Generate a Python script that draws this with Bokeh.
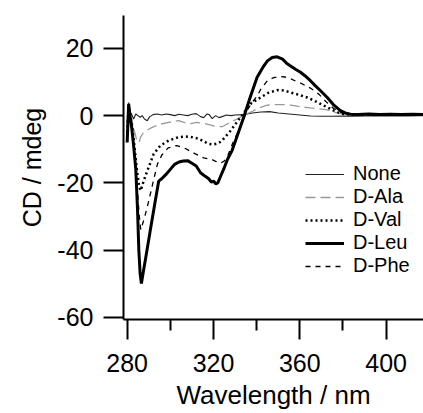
from bokeh.plotting import figure
from bokeh.models import Range1d, FixedTicker, Legend, LegendItem, Title
from bokeh.embed import file_html
from bokeh.resources import INLINE

# ---- data ----
x_ticks = [280, 320, 360, 400]
x_minor = [300, 340, 380, 420]
y_ticks = [-60, -40, -20, 0, 20]
y_tick_labels = ["-60", "-40", "-20", "0", "20"]
x_title = "Wavelength / nm"
y_title = "CD / mdeg"

none_x = [280, 280.7, 281.3, 282, 283, 284, 285, 286, 287, 288, 289.3, 290.5, 292, 294, 296, 298,
          300, 302, 304, 306, 308, 310, 312, 314, 315.5, 317, 318, 319.4, 321, 322.5, 324, 326,
          328, 330, 334, 338, 342, 346, 350, 355, 360, 365, 370, 375, 380, 385, 390, 395, 400,
          405, 410, 415, 418]
none_y = [-2, 3.9, 1, 0.5, -1, 0.5, 0, -0.5, 0, -1, -1.5, -0.3, 0.3, 0.5, 0.2, 0.5,
          0.3, 0, 0.4, 0.2, 0, 0.4, 0.6, -0.3, -0.6, 0.5, 0.3, -0.9, 0, -0.6, -0.3, 0.2,
          0, 0.2, 0.3, 0.8, 1.1, 1.2, 0.8, 0.5, 0.2, -0.1, -0.2, -0.2, -0.1, -0.2, -0.1, 0, -0.1,
          0, -0.1, 0, 0]

ala_x = [280, 280.7, 281.5, 282.5, 283.5, 284.5, 285.5, 286.2, 287.7, 289.5, 291.6, 295, 299.3,
         303.9, 308.5, 312.4, 317, 320.5, 324, 326.3, 328.5, 330.9, 333, 335.5, 338, 340.2, 342.5,
         344.9, 348.5, 352.6, 355.7, 358.8, 362, 364.9, 368, 372.7, 375.7, 378.8, 381, 383.5, 390,
         400, 410, 418]
ala_y = [-3, 3, 0, -2.5, -5, -7.5, -8, -6.4, -4.9, -4.2, -3.5, -2.6, -2,
         -1.5, -2.5, -2, -2.5, -3.1, -3.3, -2.5, -1.8, -1, -0.3, 0.5, 1.3, 2, 2.6,
         3.1, 3.3, 3.3, 3.1, 2.8, 2.5, 2.3, 2.1, 1.7, 1.1, 0.6, 0.4, 0.3, 0.3,
         0.3, 0.3, 0.3]

val_x = [280, 280.7, 281.5, 282.5, 283.5, 284.5, 285.5, 286.3, 287.7, 290, 292.3, 295.4, 299.3,
         303.9, 308.5, 313.2, 317.8, 320, 322.4, 324, 327.9, 332.5, 337.1, 341.8, 345.5, 349.5,
         352.5, 355.7, 359.5, 363.4, 366.5, 369.6, 372.7, 375.7, 378, 380.4, 383.5, 390, 400,
         410, 418]
val_y = [-5, 3, 0, -4, -10, -16, -21, -22.3, -19.3, -15.3, -11.4, -8.9, -7.4,
         -6.4, -6.2, -6.9, -8.4, -8.6, -8.2, -7.4, -4.5, -0.5, 3.5, 5.4, 6.8, 7.6,
         7.5, 6.9, 6.2, 5.4, 4.5, 3.5, 2.5, 1.5, 0.9, 0.5, 0.3, 0.3, 0.3,
         0.3, 0.3]

leu_x = [280, 280.7, 281.3, 282, 283, 284, 284.8, 285.4, 286, 286.6, 287.6, 288.6, 290.6, 292.6,
         294.6, 296, 298, 300, 302, 304, 306, 308, 310, 312, 314, 316, 317.8, 319, 320.1, 321,
         322, 323, 324.8, 326.5, 328.6, 331, 334, 337, 340.2, 343, 345, 347.2, 349.5, 352, 354,
         355.7, 358, 360.3, 362.5, 364.9, 367, 369.6, 372.7, 375.5, 378.8, 381, 383.5, 387, 392,
         397, 402, 407, 412, 418]
leu_y = [-8, 3.5, 0, -3, -9, -16, -28, -40, -47, -50, -46, -42.3, -34.6, -27,
         -19.5, -18.8, -17.5, -16, -14.5, -13.8, -13.5, -13.4, -14.2, -15, -17, -18, -18.8, -19.8,
         -19.5, -20.3, -20, -18.5, -15.8, -13, -10.4, -6, -0.5, 5.5, 11.4, 14.5, 16.3, 17.3, 17.5,
         16.8, 15.5, 14.8, 13.8, 12.9, 11.8, 10.4, 9, 7.4, 5.4, 3.3, 1.5, 0.8, 0.4, 0.3, 0.5,
         0.3, 0.4, 0.3, 0.4, 0.3]

phe_x = [280, 280.7, 281.5, 282.5, 283.5, 284.5, 285.5, 286.3, 287.5, 289, 290.5, 292.3, 294,
         296, 299, 303, 307, 311.6, 315.5, 319, 321, 323.2, 325, 326.3, 329.4, 332.5, 335.5, 338,
         340.2, 342, 345, 347.5, 350.3, 353, 355.7, 358, 360.3, 362.5, 364.9, 368.8, 372.7,
         375.5, 378.8, 381, 383.5, 390, 400, 410, 418]
phe_y = [-6, 3, -1, -6, -12, -20, -29, -34, -31.5, -28, -24, -19, -14.5,
         -11.8, -9.6, -8.9, -9.8, -11.4, -12.6, -13, -13.6, -14.2, -13.5, -12.4, -7.4, -3.5, 1.5, 4,
         5.8, 8, 10.4, 11.2, 11.7, 11.5, 11, 10.3, 9.7, 9, 8.2, 6.4, 3.8,
         2.2, 1, 0.6, 0.4, 0.3, 0.3, 0.3, 0.3]

labels = ["None", "D-Ala", "D-Val", "D-Leu", "D-Phe"]

FONT = "Liberation Sans"

p = figure(width=423, height=413, output_backend="svg", toolbar_location=None,
           x_range=Range1d(278.3, 417.3), y_range=Range1d(-60.68, 29.8),
           min_border_left=123, min_border_right=0, min_border_top=15, min_border_bottom=93)
p.outline_line_color = None
p.grid.visible = False
p.background_fill_color = "white"
p.border_fill_color = "white"

for ax in (p.xaxis[0], p.yaxis[0]):
    ax.axis_line_width = 2
    ax.axis_line_color = "black"
    ax.major_tick_line_width = 2
    ax.major_tick_line_color = "black"
    ax.major_tick_out = 20
    ax.major_tick_in = 0
    ax.minor_tick_line_width = 2
    ax.minor_tick_out = 11
    ax.minor_tick_in = 0
    ax.major_label_text_font = FONT
    ax.major_label_text_font_size = "25px"
    ax.major_label_text_color = "black"

p.xaxis.ticker = FixedTicker(ticks=x_ticks, minor_ticks=x_minor)
p.yaxis.ticker = FixedTicker(ticks=y_ticks, minor_ticks=[])
p.yaxis.major_label_overrides = {t: s for t, s in zip(y_ticks, y_tick_labels)}
p.yaxis.minor_tick_line_color = None
p.xaxis.major_label_standoff = 14
p.yaxis.major_label_standoff = 10

# axis titles as side-panel titles (allow a small offset along the axis)
p.add_layout(Title(text=x_title, align="center", offset=5, standoff=7,
                   text_font=FONT, text_font_size="26px", text_font_style="normal",
                   text_color="black"), "below")
p.add_layout(Title(text=y_title, align="center", offset=10, standoff=18,
                   text_font=FONT, text_font_size="25px", text_font_style="normal",
                   text_color="black"), "left")

r_none = p.line(none_x, none_y, line_color="#222222", line_width=1.1)
r_ala = p.line(ala_x, ala_y, line_color="#999999", line_width=1.3, line_dash="10 5")
r_val = p.line(val_x, val_y, line_color="black", line_width=2.5, line_dash="2 3")
r_leu = p.line(leu_x, leu_y, line_color="black", line_width=3)
r_phe = p.line(phe_x, phe_y, line_color="black", line_width=1.3, line_dash="5 5")

items = [LegendItem(label=lab, renderers=[r]) for lab, r in
         zip(labels, [r_none, r_ala, r_val, r_leu, r_phe])]
legend = Legend(items=items, location=(182, 42), orientation="vertical",
                padding=0, margin=0, spacing=0, glyph_width=39, glyph_height=22,
                label_height=22, label_standoff=9,
                label_text_font=FONT, label_text_font_size="20px", label_text_color="black",
                background_fill_alpha=0, border_line_alpha=0)
p.add_layout(legend, "center")

open("out.html", "w").write(file_html(p, INLINE))
